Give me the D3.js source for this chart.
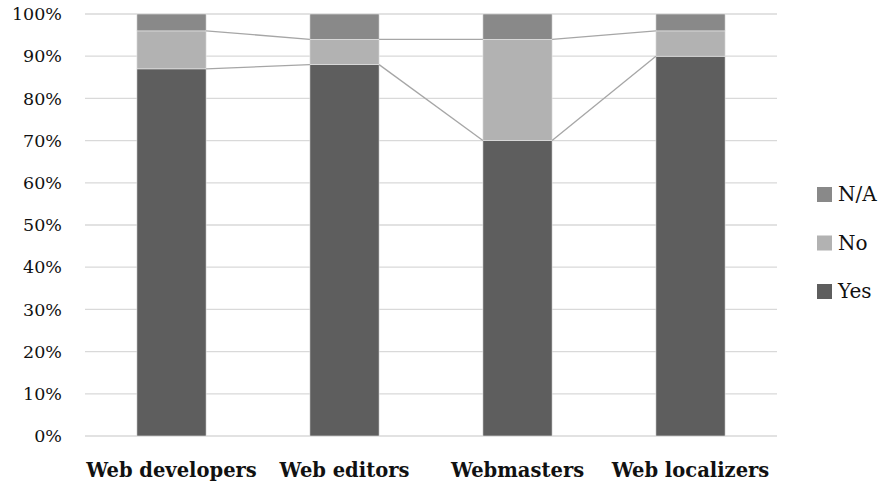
<!DOCTYPE html>
<html><head><meta charset="utf-8">
<script src="https://cdn.jsdelivr.net/npm/d3@7"></script>
<style>body{margin:0;background:#fff}svg{display:block}text{font-family:"DejaVu Serif","Liberation Serif",serif;fill:#111}</style>
</head><body><svg id="c" width="888" height="485"></svg>
<script>
const categories = ["Web developers", "Web editors", "Webmasters", "Web localizers"];
const seriesNames = ["Yes", "No", "N/A"];
const yesValues = [87, 88, 70, 90];
const noValues = [9, 6, 24, 6];
const naValues = [4, 6, 6, 4];
const yTicks = [0, 10, 20, 30, 40, 50, 60, 70, 80, 90, 100];
const colors = {"Yes": "#5e5e5e", "No": "#b2b2b2", "N/A": "#898989"};
const FONT = '"DejaVu Serif","Liberation Serif",serif';

const rows = categories.map((c, i) => ({cat: c, "Yes": yesValues[i], "No": noValues[i], "N/A": naValues[i]}));
const stack = d3.stack().keys(seriesNames)(rows);

const svg = d3.select("#c");
const m = {l: 85, r: 111, t: 14, b: 49};
const W = 888 - m.l - m.r, H = 485 - m.t - m.b;
const g = svg.append("g").attr("transform", `translate(${m.l},${m.t})`);
const x = d3.scaleBand().domain(categories).range([0, W]).paddingInner(0.6).paddingOuter(0.3);
const y = d3.scaleLinear().domain([0, 100]).range([H, 0]);

g.selectAll("line.grid").data(yTicks).join("line").attr("class", "grid")
  .attr("x1", 0).attr("x2", W).attr("y1", d => y(d)).attr("y2", d => y(d))
  .attr("stroke", "#d9d9d9").attr("stroke-width", 1.3);

const yAxis = g.append("g").call(d3.axisLeft(y).tickValues(yTicks).tickFormat(d => d + "%").tickSize(0).tickPadding(23));
yAxis.select(".domain").remove();
yAxis.selectAll("text").attr("font-size", 17.5).style("font-family", FONT).attr("fill", "#111");

g.selectAll("g.s").data(stack).join("g").attr("class", "s").attr("fill", d => colors[d.key])
  .selectAll("rect").data(d => d).join("rect")
  .attr("x", d => x(d.data.cat)).attr("width", x.bandwidth())
  .attr("y", d => y(d[1])).attr("height", d => y(d[0]) - y(d[1]))
  .attr("stroke", "#e8e8e8").attr("stroke-width", 0.6);

// series lines between bars
stack.slice(0, 2).forEach(s => {
  for (let i = 0; i < s.length - 1; i++) {
    g.append("line")
      .attr("x1", x(categories[i]) + x.bandwidth()).attr("y1", y(s[i][1]))
      .attr("x2", x(categories[i + 1])).attr("y2", y(s[i + 1][1]))
      .attr("stroke", "#a6a6a6").attr("stroke-width", 1.3);
  }
});

const xAxis = g.append("g").attr("transform", `translate(0,${H})`).call(d3.axisBottom(x).tickSize(0).tickPadding(27));
xAxis.select(".domain").remove();
xAxis.selectAll("text").attr("font-size", 19.5).attr("font-weight", "bold").style("font-family", FONT).attr("fill", "#111");

const legendItems = ["N/A", "No", "Yes"];
const lg = svg.append("g").selectAll("g").data(legendItems).join("g")
  .attr("transform", (d, i) => `translate(817,${194 + i * 48.5})`);
lg.append("rect").attr("x", 0).attr("y", -7).attr("width", 15).attr("height", 15).attr("fill", d => colors[d]);
lg.append("text").attr("x", 21).attr("y", 0).attr("dy", "0.35em").attr("font-size", 20).style("font-family", FONT).text(d => d);
</script></body></html>
